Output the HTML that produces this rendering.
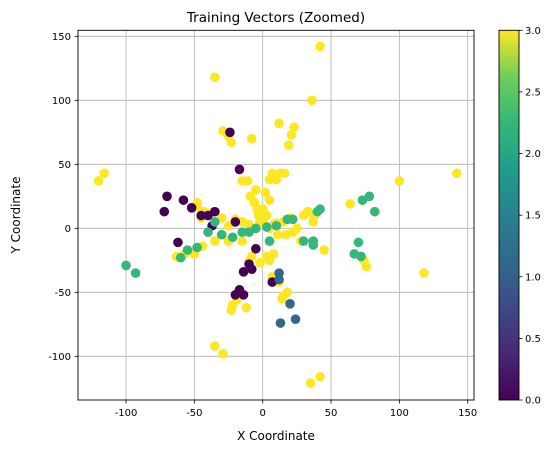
<!DOCTYPE html>
<html><head><meta charset="utf-8"><style>
body{margin:0;background:#fff;}
svg text{font-family:"DejaVu Sans","Liberation Sans",sans-serif;fill:#000;}
</style></head><body>
<svg id="chart" width="559" height="453" xmlns="http://www.w3.org/2000/svg">
<defs><linearGradient id="vir" x1="0" y1="1" x2="0" y2="0">
<stop offset="0" stop-color="#440154"/><stop offset="0.125" stop-color="#482878"/><stop offset="0.25" stop-color="#3e4989"/><stop offset="0.375" stop-color="#31688e"/><stop offset="0.5" stop-color="#26828e"/><stop offset="0.625" stop-color="#1f9e89"/><stop offset="0.75" stop-color="#35b779"/><stop offset="0.875" stop-color="#6ece58"/><stop offset="1" stop-color="#fde725"/></linearGradient></defs>
<text x="276" y="22" font-size="13.5" text-anchor="middle">Training Vectors (Zoomed)</text>
<g id="grid"></g><g id="pts"></g>
<rect x="78" y="30.3" width="396" height="369.7" fill="none" stroke="#000" stroke-width="0.9"/>
<g id="axes"></g>
<text x="276" y="440" font-size="12" text-anchor="middle">X Coordinate</text>
<text x="20" y="215" font-size="12" text-anchor="middle" transform="rotate(-90 20 215)">Y Coordinate</text>
<rect x="499" y="30.3" width="20" height="369.7" fill="url(#vir)" stroke="#000" stroke-width="0.9"/>
<g id="cbar"></g>
</svg>
<script>
const xTicks=[-100,-50,0,50,100,150];
const yTicks=[-100,-50,0,50,100,150];
const cTicks=[0,0.5,1,1.5,2,2.5,3];
const ptsX=[-120,-116,-35,42,36,12,23,21,19,-29,-25,-23,-8,-15,-11,-5,-9,-6,-4,-3,-2,5,7,13,10,16,2,5,0,3,-48,-43,-38,-45,-30,-20,-15,-10,-5,5,10,15,20,25,30,33,37,38,64,100,142,118,76,74,45,28,22,17,11,8,5,3,-10,-8,-15,-25,-35,-30,-50,-57,-63,-44,-2,7,12,18,15,14,-12,-22,-23,-19,-35,-29,35,42,-48,-25,0,8,
-70,-72,-58,-52,-45,-40,-35,-62,-37,-20,-24,-17,-5,-8,-14,-20,-17,-14,7,-10,
12,12,20,13,24,
-100,-93,-60,-55,-35,-30,-22,-15,-10,-5,3,5,10,18,22,30,37,37,40,42,73,78,82,67,70,72,-48,-40];
const ptsY=[37,43,118,142,100,82,79,73,65,76,72,67,70,37,37,30,25,20,15,10,5,38,43,43,38,43,28,22,15,10,17,13,12,8,8,7,5,3,0,0,4,5,8,0,10,13,5,10,19,37,43,-35,-30,-25,-17,-10,-3,-5,-5,-20,-25,-22,-26,-22,-10,-10,-10,-5,-20,-20,-22,-14,-27,-38,-42,-50,-53,-55,-62,-60,-64,-56,-92,-98,-121,-116,20,2,5,3,
25,13,22,16,10,10,13,-11,2,5,75,46,-16,-32,-34,-52,-48,-52,-42,-28,
-35,-40,-59,-74,-71,
-29,-35,-23,-17,5,-5,-7,-3,-3,0,1,-10,2,7,7,-10,-10,-13,13,15,22,25,13,-20,-11,-22,-15,-3];
const ptsC=[];
for(let i=0;i<90;i++)ptsC.push(3);
for(let i=0;i<20;i++)ptsC.push(0);
for(let i=0;i<5;i++)ptsC.push(1);
for(let i=0;i<28;i++)ptsC.push(2);
const NS="http://www.w3.org/2000/svg";
const sx=v=>262.7+v*1.3667, sy=v=>228.3-v*1.28, sc=v=>400-v/3*369.7;
const cols=["#440154","#31688e","#35b779","#fde725"];
function mk(t,a,p){const e=document.createElementNS(NS,t);for(const k in a)e.setAttribute(k,a[k]);document.getElementById(p).appendChild(e);return e;}
xTicks.forEach(t=>{
const l=mk('line',{x1:sx(t),x2:sx(t),y1:30.3,y2:400,stroke:'#b0b0b0','stroke-width':0.8},'grid');


mk('line',{x1:sx(t),x2:sx(t),y1:400,y2:403.5,stroke:'#000','stroke-width':0.8},'axes');
const tx=mk('text',{x:sx(t),y:416,'font-size':10,'text-anchor':'middle'},'axes');tx.textContent=t;


});
yTicks.forEach(t=>{
const l=mk('line',{x1:78,x2:474,y1:sy(t),y2:sy(t),stroke:'#b0b0b0','stroke-width':0.8},'grid');


mk('line',{x1:74.5,x2:78,y1:sy(t),y2:sy(t),stroke:'#000','stroke-width':0.8},'axes');
const tx=mk('text',{x:71,y:sy(t)+3.5,'font-size':10,'text-anchor':'end'},'axes');tx.textContent=t;


});
cTicks.forEach(t=>{
mk('line',{x1:519,x2:522.5,y1:sc(t),y2:sc(t),stroke:'#000','stroke-width':0.8},'cbar');
const tx=mk('text',{x:525,y:sc(t)+3.5,'font-size':10},'cbar');tx.textContent=t.toFixed(1);


});
ptsX.forEach((x,i)=>{
const c=mk('circle',{cx:sx(x),cy:sy(ptsY[i]),r:4.8,fill:cols[ptsC[i]]},'pts');


});
</script>
</body></html>
